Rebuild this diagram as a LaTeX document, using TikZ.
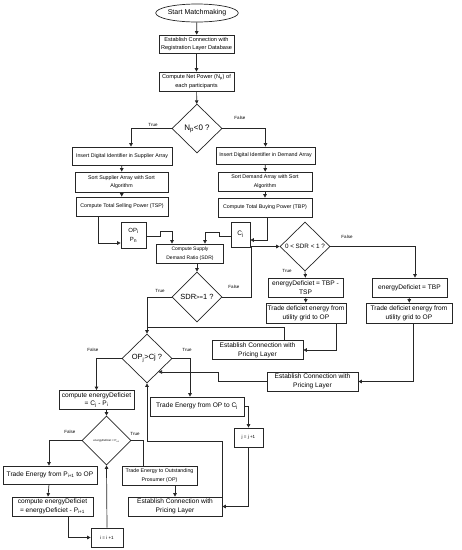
\documentclass[tikz,border=0pt]{standalone}
\usepackage{fontspec}
\setmainfont{Liberation Sans}
\usetikzlibrary{shapes.geometric,arrows.meta,calc}
\tikzset{
  box/.style={draw=black!85, line width=0.7pt, rectangle, inner sep=0pt, align=center, fill=white},
  dia/.style={draw=black!85, line width=0.7pt, diamond, inner sep=0pt, align=center, fill=white},
  arr/.style={line width=0.7pt, draw=black!85, -{Triangle[length=3.5pt,width=3.5pt]}},
  ln/.style={line width=0.7pt, draw=black!85},
  lbl/.style={font=\fontsize{4.5}{5}\selectfont, inner sep=0pt},
  fa/.style={font=\fontsize{5.3}{8.5}\selectfont},
  fb/.style={font=\fontsize{6.6}{8.6}\selectfont},
  fc/.style={font=\fontsize{5.6}{8.8}\selectfont},
}
\begin{document}
\begin{tikzpicture}[x=1pt,y=-1pt]
\useasboundingbox (0,0) rectangle (462,550);
% top
\node[draw=black!85, line width=0.7pt, ellipse, inner sep=0pt, minimum width=75, minimum height=18, font=\fontsize{7}{8}\selectfont] (start) at (197,13) {Start Matchmaking};
\node[box, fc, minimum width=75, minimum height=18] (b1) at (196.5,44) {Establish Connection with\\Registration Layer Database};
\node[box, fc, minimum width=75, minimum height=19] (b2) at (196.5,81.5) {Compute Net Power (N\textsubscript{p}) of\\each participants};
\node[dia, minimum width=50, minimum height=49, font=\fontsize{8}{9}\selectfont] (d1) at (197,128.5) {N\textsubscript{p}<0 ?};
% left column
\node[box, fa, minimum width=100, minimum height=18] (s1) at (122,156) {Insert Digital Identifier in Supplier Array};
\node[box, fa, minimum width=93, minimum height=20] (s2) at (121.5,182) {Sort Supplier Array with Sort\\Algorithm};
\node[box, fa, minimum width=92, minimum height=19] (s3) at (122,206.5) {Compute Total Selling Power (TSP)};
% right column
\node[box, fa, minimum width=99, minimum height=17] (r1) at (265.5,155.5) {Insert Digital Identifier in Demand Array};
\node[box, fa, minimum width=94, minimum height=19] (r2) at (265,181.5) {Sort Demand Array with Sort\\Algorithm};
\node[box, fa, minimum width=94, minimum height=19] (r3) at (265,207.5) {Compute Total Buying Power (TBP)};
% middle
\node[box, minimum width=25, minimum height=26, font=\fontsize{6}{9}\selectfont] (op) at (133.5,235) {OP\textsubscript{i}\\P\textsubscript{n}};
\node[box, minimum width=19, minimum height=25, font=\fontsize{6.5}{8}\selectfont] (cj) at (240.5,234.5) {C\textsubscript{j}};
\node[box, minimum width=67, minimum height=19, font=\fontsize{5}{9}\selectfont] (sdr) at (190,253.5) {Compute Supply\\Demand Ratio (SDR)};
\node[dia, minimum width=50, minimum height=50, font=\fontsize{7.5}{9}\selectfont] (d2) at (197,297) {SDR{\fontsize{6}{7}\selectfont>=}1 ?};
\node[dia, minimum width=50, minimum height=49, font=\fontsize{6.3}{8}\selectfont] (d3) at (305,246.5) {0 < SDR < 1 ?};
\node[box, fb, minimum width=75, minimum height=19] (e1) at (305.5,287.5) {energyDeficiet = TBP -\\TSP};
\node[box, fb, minimum width=80, minimum height=20] (t1) at (306,313) {Trade deficiet energy from\\utility grid to OP};
\node[box, fb, minimum width=75, minimum height=19] (e2) at (409.5,287.5) {energyDeficiet = TBP};
\node[box, fb, minimum width=86, minimum height=20] (t2) at (409,313) {Trade deficiet energy from\\utility grid to OP};
\node[box, fb, minimum width=91, minimum height=19] (p1) at (257.5,350) {Establish Connection with\\Pricing Layer};
\node[box, fb, minimum width=91, minimum height=19] (p2) at (312.5,381.5) {Establish Connection with\\Pricing Layer};
\node[dia, minimum width=50, minimum height=49, font=\fontsize{7.5}{9}\selectfont] (d4) at (147,358.5) {OP\textsubscript{j}>Cj ?};
\node[box, fb, minimum width=94, minimum height=19] (tr) at (197,406.5) {Trade Energy from OP to C\textsubscript{j}};
\node[box, minimum width=29, minimum height=19, font=\fontsize{4.5}{6}\selectfont] (jj) at (248.5,437.5) {j = j +1};
\node[box, fb, minimum width=94, minimum height=19] (p3) at (175,506.5) {Establish Connection with\\Pricing Layer};
% lower left
\node[box, fb, minimum width=75, minimum height=19] (ce) at (96.5,400) {compute energyDeficiet\\= C\textsubscript{j} - P\textsubscript{i}};
\node[dia, minimum width=49, minimum height=49, font=\fontsize{2.8}{3}\selectfont] (d5) at (106.5,440.5) {energyDeficiet < P\textsubscript{i+1}};
\node[box, fb, minimum width=94, minimum height=18] (tp) at (50,475) {Trade Energy from P\textsubscript{i+1} to OP};
\node[box, fa, minimum width=75, minimum height=19] (to) at (159.5,475.5) {Trade Energy to Outstanding\\Prosumer (OP)};
\node[box, fb, minimum width=81, minimum height=19] (ce2) at (52.5,506.5) {compute energyDeficiet\\= energyDeficiet - P\textsubscript{i+1}};
\node[box, minimum width=32, minimum height=19, font=\fontsize{4.5}{6}\selectfont] (ii) at (107,537.5) {i = i +1};
% labels
\node[lbl] (l1) at (153,125) {True};
\node[lbl] (l2) at (240,118) {False};
\node[lbl] (l3) at (160,291) {True};
\node[lbl] (l4) at (234,287) {False};
\node[lbl] (l5) at (347,237) {False};
\node[lbl] (l6) at (287,271) {True};
\node[lbl] (l7) at (93,350) {False};
\node[lbl] (l8) at (187,350) {True};
\node[lbl] (l9) at (70,432) {False};
\node[lbl] (l10) at (135,434) {True};
% connectors
\draw[arr] (start) -- (b1);
\draw[arr] (b1) -- (b2);
\draw[arr] (b2) -- (d1);
\draw[arr] (d1.west) -| ($(s1.north)+(9,0)$);
\draw[arr] (d1.east) -| (r1.north);
\draw[arr] (s1) -- (s2);
\draw[arr] (s2) -- (s3);
\draw[arr] (r1) -- (r2);
\draw[arr] (r2) -- (r3);
\draw[arr] ($(s3.south)+(-24,0)$) |- ($(op.west)+(0,8)$);
\draw[arr] ($(op.east)+(0,1)$) -- ++(14,0) -- ++(0,-5) -| ($(sdr.north)+(-18,0)$);
\draw[arr] ($(cj.west)+(0,1.5)$) -- ++(-11,0) -- ++(0,-4) -| ($(sdr.north)+(15,0)$);
\draw[arr] ($(r3.south)+(2,0)$) |- ($(cj.east)+(0,5.5)$);
\draw[arr] ($(sdr.south)+(7,0)$) -- (d2.north);
\draw[arr] (d2.west) -| (d4.north);
\draw[ln] ($(p1.north)+(26.5,0)$) |- ($(d4.north)+(0,-6)$);
\draw[arr] (d2.east) -- ++(29,0) |- (d3.west);
\draw[arr] (d3.south) -- (e1.north);
\draw[arr] (d3.east) -| ($(e2.north)+(5.5,0)$);
\draw[arr] (e1) -- (t1);
\draw[arr] (e2) -- (t2);
\draw[arr] ($(t1.south)+(30,0)$) |- (p1.east);
\draw[arr] ($(t2.south)+(4,0)$) |- (p2.east);
\draw[arr] (p2.west) -- ++(-48,0) -- ++(0,-9.5) -- ($(d4.center)+(11.5,13.5)$);
\draw[arr] (d4.east) -| ($(tr.north)+(-7,0)$);
\draw[arr] (tr.east) -| (jj.north);
\draw[arr] (jj.south) |- (p3.east);
\draw[arr] (p3.north east) |- ($(d4.south)+(0,58)$) -- (d4.south);
\draw[arr] (d4.west) -| (ce.north);
\draw[arr] ($(ce.south)+(10,0)$) -- (d5.north);
\draw[arr] (d5.west) -| ($(tp.north)+(-1,0)$);
\draw[ln] (d5.east) -| ($(to.north)+(-16,0)$);
\draw[arr] ($(to.south)+(15.5,0)$) -- (p3.north);
\draw[arr] ($(tp.south)+(-1,0)$) -- ($(ce2.north)+(-4.5,0)$);
\draw[arr] ($(ce2.south)+(15.5,0)$) |- (ii.west);
\draw[arr] (ii.north) -- (d5.south);
\end{tikzpicture}
\end{document}
